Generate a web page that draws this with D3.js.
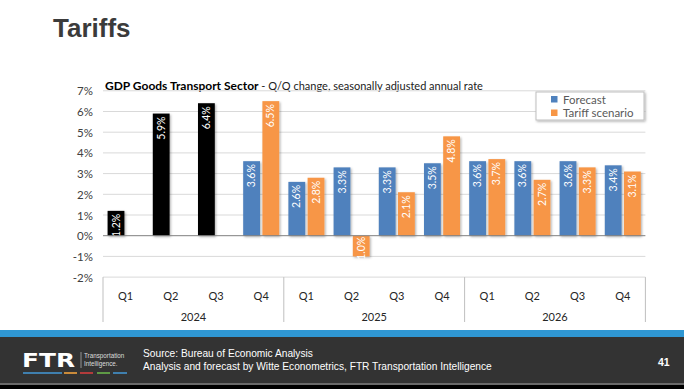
<!DOCTYPE html>
<html><head><meta charset="utf-8">
<script src="https://cdn.jsdelivr.net/npm/d3@7"></script>
<style>
html,body{margin:0;padding:0;background:#fff;}
svg{display:block;}
</style></head>
<body>
<svg id="c" width="684" height="389"></svg>
<script>
const quarters = ["Q1","Q2","Q3","Q4","Q1","Q2","Q3","Q4","Q1","Q2","Q3","Q4"];
const years = ["2024","2025","2026"];
const actual   = [1.2, 5.9, 6.4, null, null, null, null, null, null, null, null, null];
const forecast = [null, null, null, 3.6, 2.6, 3.3, 3.3, 3.5, 3.6, 3.6, 3.6, 3.4];
const tariff   = [null, null, null, 6.5, 2.8, -1.0, 2.1, 4.8, 3.7, 2.7, 3.3, 3.1];
const yTicks = [-2,-1,0,1,2,3,4,5,6,7];
const seriesNames = ["Forecast","Tariff scenario"];
const colors = {actual:"#000000", forecast:"#4f81bd", tariff:"#f79646"};

const svg = d3.select("#c");
const defs = svg.append("defs");
const f = defs.append("filter").attr("id","sh").attr("x","-20%").attr("y","-20%").attr("width","150%").attr("height","150%");
f.append("feDropShadow").attr("dx",1.2).attr("dy",1.2).attr("stdDeviation",0.9).attr("flood-color","#000").attr("flood-opacity",0.3);

// slide title
svg.append("text").attr("x",53).attr("y",37).text("Tariffs")
  .attr("font-family","Liberation Sans, Arial, sans-serif").attr("font-weight","bold")
  .attr("font-size",26).attr("fill","#3b3b3b");

const L = 103, R = 645.4, T = 90.8, B = 277.1;
const idx = d3.range(quarters.length);
const x = d3.scaleBand().domain(idx).range([L,R]).paddingInner(0).paddingOuter(0);
const y = d3.scaleLinear().domain([-2,7]).range([B,T]);
const bw = x.bandwidth();
const barW = bw*0.372, gap = bw*0.053;

// chart title
const title = svg.append("text").attr("x",105).attr("y",90)
  .attr("font-family","Lato, 'Open Sans', sans-serif").attr("font-size",12).attr("fill","#000");
title.append("tspan").attr("font-weight","bold").text("GDP Goods Transport Sector");
title.append("tspan").attr("font-size",11).attr("fill","#222").text(" - Q/Q change, seasonally adjusted annual rate");

// gridlines
svg.append("g").selectAll("line").data(yTicks.filter(d=>d!==0)).join("line")
  .attr("x1",L).attr("x2",R).attr("y1",d=>y(d)).attr("y2",d=>y(d))
  .attr("stroke","#d9d9d9").attr("stroke-width",1);

// y axis labels
const yAxis = d3.axisLeft(y).tickValues(yTicks).tickFormat(d=>d+"%").tickSize(0).tickPadding(0);
const ga = svg.append("g").attr("transform",`translate(${93},0)`).call(yAxis);
ga.select(".domain").remove();
ga.selectAll("text").attr("font-family","Lato, 'Open Sans', sans-serif").attr("font-size",11.5).attr("fill","#404040").attr("dy","0.35em");

// bars
const left = idx.map(i => actual[i]!=null ? {i, v:actual[i], c:colors.actual} : (forecast[i]!=null ? {i, v:forecast[i], c:colors.forecast} : null)).filter(d=>d);
const right = idx.filter(i=>tariff[i]!=null).map(i=>({i, v:tariff[i], c:colors.tariff}));
const cx = i => x(i) + bw/2;
function drawBars(data, offset){
  const g = svg.append("g");
  g.selectAll("rect").data(data).join("rect")
    .attr("x",d=>cx(d.i)+offset).attr("width",barW)
    .attr("y",d=>y(Math.max(0,d.v))).attr("height",d=>Math.abs(y(d.v)-y(0)))
    .attr("fill",d=>d.c).attr("filter","url(#sh)");
  g.selectAll("text").data(data).join("text")
    .attr("transform",d=>{
      const tx = cx(d.i)+offset+barW/2;
      const ty = d.v>=0 ? y(d.v)+3 : y(0)+1;
      return `translate(${tx},${ty}) rotate(-90)`;
    })
    .attr("text-anchor","end").attr("dy","0.35em")
    .attr("font-family","Lato, 'Open Sans', sans-serif").attr("font-size",10.5).attr("fill","#fff")
    .text(d=>d.v.toFixed(1)+"%");
}
drawBars(left, -(gap/2) - barW);
drawBars(right, gap/2);

// zero line
svg.append("line").attr("x1",L).attr("x2",R).attr("y1",y(0)).attr("y2",y(0)).attr("stroke","#7f7f7f").attr("stroke-width",1);

// category axis
const catG = svg.append("g");
[0,4,8,12].forEach(k=>{
  const xx = k<12 ? x(k) : R;
  catG.append("line").attr("x1",xx).attr("x2",xx).attr("y1",B).attr("y2",322).attr("stroke","#bfbfbf");
});
catG.selectAll("text.q").data(idx).join("text").attr("class","q")
  .attr("x",i=>cx(i)).attr("y",296).attr("text-anchor","middle").attr("dy","0.35em")
  .attr("font-family","Lato, 'Open Sans', sans-serif").attr("font-size",11).attr("fill","#262626")
  .text(i=>quarters[i]);
catG.selectAll("text.yr").data(years).join("text").attr("class","yr")
  .attr("x",(d,k)=>(x(k*4)+ (k*4+4<12? x(k*4+4):R))/2).attr("y",317).attr("text-anchor","middle").attr("dy","0.35em")
  .attr("font-family","Lato, 'Open Sans', sans-serif").attr("font-size",11).attr("fill","#262626")
  .text(d=>d);

// legend
const lg = svg.append("g").attr("transform","translate(536,92)");
lg.append("rect").attr("width",108).attr("height",28).attr("fill","#fff").attr("stroke","#bfbfbf").attr("filter","url(#sh)");
[colors.forecast, colors.tariff].forEach((c,k)=>{
  lg.append("rect").attr("x",15).attr("y",4+k*13.5).attr("width",6.5).attr("height",6.5).attr("fill",c);
  lg.append("text").attr("x",27).attr("y",7.5+k*13.5).attr("dy","0.35em")
    .attr("font-family","Lato, 'Open Sans', sans-serif").attr("font-size",11.5).attr("fill","#595959")
    .text(seriesNames[k]);
});

// footer
svg.append("rect").attr("x",0).attr("y",330).attr("width",684).attr("height",7).attr("fill","#2f97d3");
svg.append("rect").attr("x",0).attr("y",337).attr("width",684).attr("height",46).attr("fill","#333333");
svg.append("rect").attr("x",0).attr("y",383).attr("width",684).attr("height",2).attr("fill","#6a6a6a");
svg.append("rect").attr("x",0).attr("y",385).attr("width",684).attr("height",4).attr("fill","#000");

svg.append("text").attr("x",22).attr("y",367).text("FTR")
  .attr("font-family","DejaVu Sans, sans-serif").attr("font-weight","bold").attr("font-size",19)
  .attr("fill","#fff").attr("textLength",53).attr("lengthAdjust","spacingAndGlyphs");
svg.append("line").attr("x1",81).attr("x2",81).attr("y1",352).attr("y2",368).attr("stroke","#bbb").attr("stroke-width",0.7);
svg.append("text").attr("x",84).attr("y",358).text("Transportation").attr("font-family","Liberation Sans, sans-serif").attr("font-size",6.3).attr("fill","#ddd");
svg.append("text").attr("x",84).attr("y",366).text("Intelligence.").attr("font-family","Liberation Sans, sans-serif").attr("font-size",6.3).attr("fill","#ddd");
[[23,62,"#3f7fae"],[64,77,"#c98a3a"],[80,93,"#b23b3b"],[97,110,"#5e9a45"],[113,127,"#3f7fae"]].forEach(d=>{
  svg.append("rect").attr("x",d[0]).attr("y",372).attr("width",d[1]-d[0]).attr("height",2).attr("fill",d[2]);
});
svg.append("text").attr("x",143).attr("y",357).text("Source: Bureau of Economic Analysis")
  .attr("font-family","Liberation Sans, Arial, sans-serif").attr("font-size",10.2).attr("fill","#fff");
svg.append("text").attr("x",143).attr("y",370).text("Analysis and forecast by Witte Econometrics, FTR Transportation Intelligence")
  .attr("font-family","Liberation Sans, Arial, sans-serif").attr("font-size",10.2).attr("fill","#fff");
svg.append("text").attr("x",658).attr("y",365.5).text("41")
  .attr("font-family","Liberation Sans, Arial, sans-serif").attr("font-weight","bold").attr("font-size",10.5).attr("fill","#fff");
</script>
</body></html>
